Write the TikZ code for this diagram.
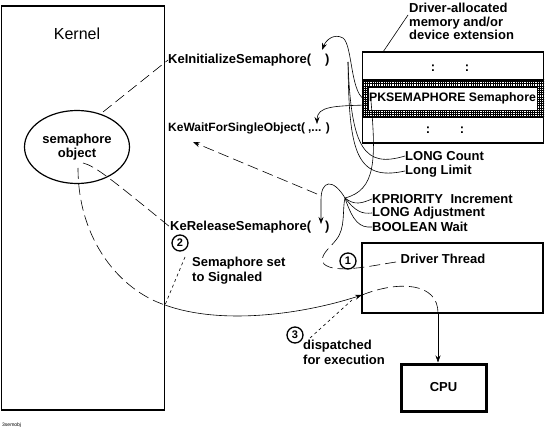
\documentclass[tikz,border=0pt]{standalone}
\usepackage{fontspec}
\setmainfont{Liberation Sans}
\usetikzlibrary{arrows.meta,shapes.geometric}
\tikzset{
  lbl/.style={font=\bfseries\fontsize{13}{14}\selectfont, inner sep=0pt, align=left},
  boxthick/.style={draw, line width=1.6pt, inner sep=0pt},
  numc/.style={circle, draw, line width=1.3pt, inner sep=0pt, minimum size=16pt, font=\bfseries\fontsize{11}{11}\selectfont},
  ldash/.style={dash pattern=on 11pt off 5pt},
  sdash/.style={dash pattern=on 3pt off 3pt},
  arr/.style={-{Stealth[length=7pt,width=5pt]}},
  thin line/.style={line width=0.6pt}
}
\begin{document}
\begin{tikzpicture}[x=1pt,y=-1pt]
\useasboundingbox (0,0) rectangle (545,430);

% Kernel box
\node[boxthick, minimum width=163pt, minimum height=404pt] (kernel) at (83,208) {};
\node[font=\fontsize{16}{18}\selectfont, inner sep=0pt] (kerneltxt) at (77,34) {Kernel};
\node[ellipse, draw, line width=1.2pt, minimum width=105pt, minimum height=73pt, lbl, align=center] (sem) at (77,147) {semaphore\\object};

% function labels
\node[lbl, anchor=west] (keinit) at (168,60) {KeInitializeSemaphore(\hspace{14pt})};
\node[lbl, anchor=west, font=\bfseries\fontsize{12}{14}\selectfont] (kewait) at (168,128) {KeWaitForSingleObject(\hspace{3pt},... )};
\node[lbl, anchor=west] (kerel) at (170,227) {KeReleaseSemaphore(\hspace{14pt})};
\node[numc] (c2) at (180,243) {2};
\node[lbl, anchor=north west, font=\bfseries\fontsize{13}{15}\selectfont] (semset) at (192,257) {Semaphore set\\to Signaled};

% memory box
\node[boxthick, minimum width=181pt, minimum height=91pt] (mem) at (453,97.5) {};
\begin{scope}
  \clip (362,80) rectangle (544,117);
  \draw[line width=0.55pt, step=2.2pt] (355,75) grid (550,120);
\end{scope}
\draw[line width=1.6pt] (362,80) -- (544,80);
\draw[line width=1.6pt] (362,117) -- (544,117);
\node[draw, fill=white, line width=0.6pt, minimum width=169pt, minimum height=23pt, inner sep=0pt, lbl, font=\bfseries\fontsize{12.3}{14}\selectfont] (pks) at (452.5,98.5) {PKSEMAPHORE Semaphore};
\node[lbl] (dots1) at (433,68) {:};
\node[lbl] (dots2) at (467,68) {:};
\node[lbl] (dots3) at (428,130) {:};
\node[lbl] (dots4) at (462,130) {:};
\node[lbl, anchor=north west, font=\bfseries\fontsize{13}{13.5}\selectfont] (dalloc) at (409,3) {Driver-allocated\\memory and/or\\device extension};
\coordinate (dallocpt) at (408,15);
\coordinate (memtop) at (383,52);
\draw[thin line] (dallocpt) -- (memtop);

% field labels
\node[lbl, anchor=west] (lcount) at (405,156) {LONG Count};
\node[lbl, anchor=west] (llimit) at (405,171) {Long Limit};
\node[lbl, anchor=west] (kprio) at (372,199) {KPRIORITY\hspace{4pt} Increment};
\node[lbl, anchor=west] (ladj) at (372,213) {LONG Adjustment};
\node[lbl, anchor=west] (bwait) at (372,227) {BOOLEAN Wait};

% driver thread + cpu
\node[boxthick, minimum width=181pt, minimum height=70pt] (dt) at (452.5,278) {};
\node[lbl] (dttxt) at (443,259) {Driver Thread};
\node[numc] (c1) at (348,261) {1};
\node[draw, line width=3pt, minimum width=85pt, minimum height=47pt, inner sep=0pt, lbl] (cpu) at (443.5,387.5) {CPU};
\node[numc] (c3) at (295,335) {3};
\node[lbl, anchor=north west, font=\bfseries\fontsize{13}{15}\selectfont] (disp) at (303,340) {dispatched\\for execution};
\node[font=\fontsize{5}{5}\selectfont, inner sep=0pt, anchor=west] (fig) at (2,425) {3semobj};

% coordinates
\coordinate (semtop) at (103,112);
\coordinate (semin) at (83,163);
\coordinate (semc) at (78,168);
\coordinate (kedge) at (165,305);
\coordinate (dtin) at (362,295);
\coordinate (dtbot) at (438,313);
\coordinate (fan) at (345,198);
\coordinate (pa) at (367,100);
\coordinate (pb) at (367,105);
\coordinate (pc) at (371,101);
\coordinate (branch) at (348,62);
\coordinate (waitstart) at (317,194);
\coordinate (waitend) at (193,142);
\coordinate (dtw) at (396,262);
\coordinate (loop) at (336,240);
\coordinate (c2end) at (185,257);
\coordinate (c3end) at (310,338);
\coordinate (dtarr) at (352,300);

% kernel connectors
\draw[ldash, thin line] (semtop) -- (keinit.west);
\draw[ldash, thin line] (semin) .. controls (95,166) and (110,178) .. (kerel.west);
\draw[ldash, thin line] (semc) .. controls (78,240) and (120,290) .. (kedge);
\draw[thin line, arr] (kedge) .. controls (220,325) and (300,315) .. (dtin);
\draw[ldash, thin line] (dtin) .. controls (400,280) and (438,283) .. (dtbot);
\draw[thin line, arr] (dtbot) -- (cpu.north -| dtbot);
\draw[sdash, thin line] (c2end) -- (kedge);
\draw[sdash, thin line] (c3end) -- (dtarr);

% semaphore curves
\draw[thin line, arr] (pa) .. controls (350,98) and (353,45) .. (343,38) .. controls (334,33) and (326,40) .. (322,50);
\draw[thin line, arr] (pb) .. controls (335,106) and (317,106) .. (317,124);
\draw[thin line] (branch) .. controls (351,150) and (365,168) .. (lcount.west);
\draw[thin line] (branch) .. controls (349,150) and (355,182) .. (llimit.west);
\draw[thin line] (pc) .. controls (376,160) and (376,190) .. (fan);
\draw[thin line] (fan) .. controls (355,206) and (362,203) .. (kprio.west);
\draw[thin line] (fan) .. controls (356,212) and (362,214) .. (ladj.west);
\draw[thin line] (fan) .. controls (353,222) and (360,228) .. (bwait.west);
\draw[thin line, arr] (fan) .. controls (333,178) and (321,180) .. (321,200) -- (321,224);
\draw[ldash, thin line, arr] (waitstart) -- (waitend);
\draw[ldash, thin line] (dtw) .. controls (370,266) and (335,274) .. (324,264) .. controls (318,256) and (330,248) .. (loop);
\draw[thin line] (loop) .. controls (346,228) and (342,210) .. (fan);
\end{tikzpicture}
\end{document}
